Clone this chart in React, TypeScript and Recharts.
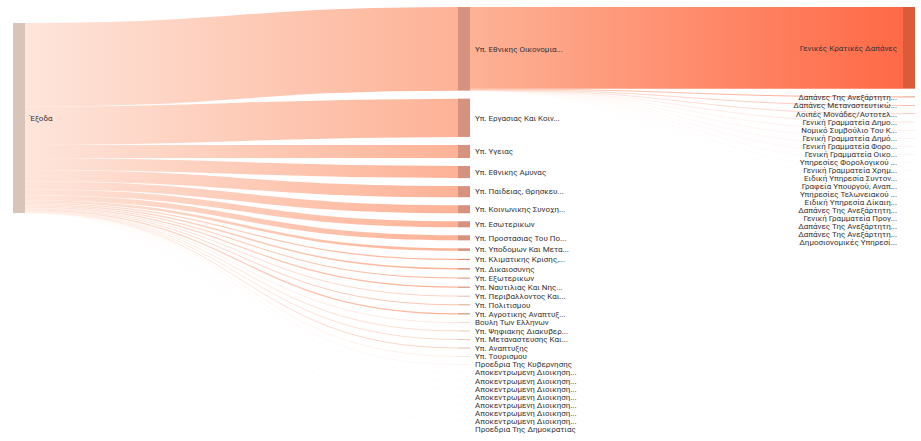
import { Sankey } from "recharts";

// root node
const rootName = "Έξοδα";

// ministries (middle column), values in € million
const ministries = [
  "Υπ. Εθνικης Οικονομια...",
  "Υπ. Εργασιας Και Κοιν...",
  "Υπ. Υγειας",
  "Υπ. Εθνικης Αμυνας",
  "Υπ. Παιδειας, Θρησκευ...",
  "Υπ. Κοινωνικης Συνοχη...",
  "Υπ. Εσωτερικων",
  "Υπ. Προστασιας Του Πο...",
  "Υπ. Υποδομων Και Μετα...",
  "Υπ. Κλιματικης Κρισης,...",
  "Υπ. Δικαιοσυνης",
  "Υπ. Εξωτερικων",
  "Υπ. Ναυτιλιας Και Νης...",
  "Υπ. Περιβαλλοντος Και...",
  "Υπ. Πολιτισμου",
  "Υπ. Αγροτικης Αναπτυξ...",
  "Βουλη Των Ελληνων",
  "Υπ. Ψηφιακης Διακυβερ...",
  "Υπ. Μεταναστευσης Και...",
  "Υπ. Αναπτυξης",
  "Υπ. Τουρισμου",
  "Προεδρια Της Κυβερνησης",
  "Αποκεντρωμενη Διοικηση...",
  "Αποκεντρωμενη Διοικηση...",
  "Αποκεντρωμενη Διοικηση...",
  "Αποκεντρωμενη Διοικηση...",
  "Αποκεντρωμενη Διοικηση...",
  "Αποκεντρωμενη Διοικηση...",
  "Αποκεντρωμενη Διοικηση...",
  "Προεδρια Της Δημοκρατιας",
];
const ministryValues = [
  41500, 19000, 6500, 6000, 5500, 4000, 3000, 2500, 1250, 600, 750, 500, 600, 300, 400, 600,
  150, 250, 250, 300, 100, 50, 25, 25, 25, 25, 25, 25, 25, 5,
];

// units of the Ministry of National Economy (right column)
const economyUnits = [
  "Γενικές Κρατικές Δαπάνες",
  "Δαπάνες Της Ανεξάρτητη...",
  "Δαπάνες Μεταναστευτικώ...",
  "Λοιπές Μονάδες/Αυτοτελ...",
  "Γενική Γραμματεία Δημο...",
  "Νομικό Συμβούλιο Του Κ...",
  "Γενική Γραμματεία Δημό...",
  "Γενική Γραμματεία Φορο...",
  "Γενική Γραμματεία Οικο...",
  "Υπηρεσίες Φορολογικού ...",
  "Γενική Γραμματεία Χρημ...",
  "Ειδική Υπηρεσία Συντον...",
  "Γραφεία Υπουργού, Αναπ...",
  "Υπηρεσίες Τελωνειακού ...",
  "Ειδική Υπηρεσία Δίκαιη...",
  "Δαπάνες Της Ανεξάρτητη...",
  "Γενική Γραμματεία Προγ...",
  "Δαπάνες Της Ανεξάρτητη...",
  "Δαπάνες Της Ανεξάρτητη...",
  "Δημοσιονομικές Υπηρεσί...",
];
const economyUnitValues = [
  40505, 300, 200, 150, 80, 50, 40, 35, 30, 25, 20, 15, 12, 10, 8, 6, 5, 4, 3, 2,
];

const nodeColors = ["#d9c4ba", "#d5927e", "#db5a3a"];
const linkColors = ["#fee5db", "#fdb296", "#ff6946"];

// two empty spacer nodes push the root node down a little (no relaxation used)
const SPACERS = 2;
const nodes = [
  ...Array.from({ length: SPACERS }, () => ({ name: "" })),
  { name: rootName },
  ...ministries.map((name) => ({ name })),
  ...economyUnits.map((name) => ({ name })),
];
const ROOT = SPACERS;
const links = [
  ...ministryValues.map((value, i) => ({ source: ROOT, target: ROOT + 1 + i, value })),
  ...economyUnitValues.map((value, i) => ({
    source: ROOT + 1,
    target: ROOT + 1 + ministries.length + i,
    value,
  })),
];

function SankeyNode(props: any) {
  const { x, y, width, height, payload } = props;
  if (!payload.name) return <g />;
  const depth = payload.depth ?? 0;
  const right = depth === 2;
  return (
    <g>
      <rect x={x} y={y} width={width} height={height} fill={nodeColors[depth]} />
      <text
        x={right ? x - 6 : x + width + 5}
        y={y + height / 2}
        dy="0.35em"
        textAnchor={right ? "end" : "start"}
        fontSize={8}
        fontFamily="Roboto, sans-serif"
        fill="#333"
      >
        {payload.name}
      </text>
    </g>
  );
}

function SankeyLink(props: any) {
  const { sourceX, targetX, sourceY, targetY, sourceControlX, targetControlX, linkWidth, index, payload } = props;
  const depth = payload.source.depth ?? 0;
  const id = "lg" + index;
  return (
    <g>
      <defs>
        <linearGradient id={id} gradientUnits="userSpaceOnUse" x1={sourceX} y1={0} x2={targetX} y2={0}>
          <stop offset="0%" stopColor={linkColors[depth]} />
          <stop offset="100%" stopColor={linkColors[depth + 1]} />
        </linearGradient>
      </defs>
      <path
        d={`M${sourceX},${sourceY}C${sourceControlX},${sourceY} ${targetControlX},${targetY} ${targetX},${targetY}`}
        fill="none"
        stroke={`url(#${id})`}
        strokeWidth={linkWidth}
      />
    </g>
  );
}

export default function App() {
  return (
    <div style={{ position: "absolute", left: 0, top: 0, width: 921, height: 441, background: "#fff" }}>
      <Sankey
        width={921}
        height={441}
        data={{ nodes, links }}
        margin={{ top: 7, right: 6, bottom: 12, left: 13 }}
        nodeWidth={12}
        nodePadding={8}
        iterations={0}
        sort={false}
        align="left"
        node={(p: any) => <SankeyNode {...p} />}
        link={(p: any) => <SankeyLink {...p} />}
      />
    </div>
  );
}
